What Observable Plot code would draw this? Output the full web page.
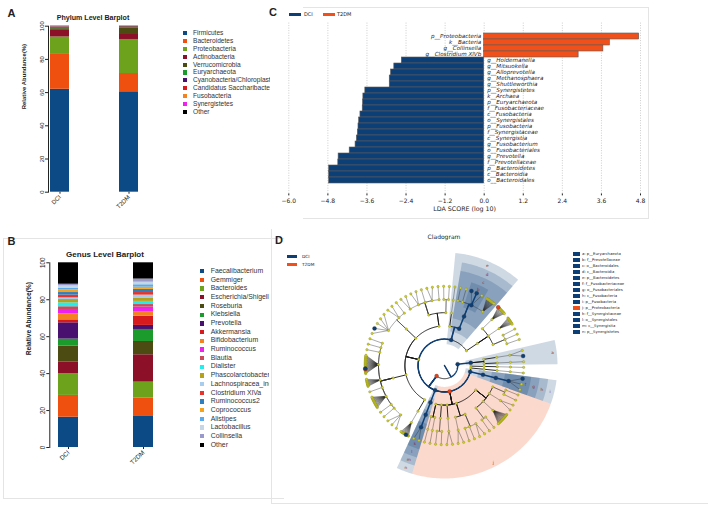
<!DOCTYPE html>
<html><head><meta charset="utf-8">
<script src="https://cdn.jsdelivr.net/npm/d3@7"></script>
<script src="https://cdn.jsdelivr.net/npm/@observablehq/plot@0.6"></script>
<style>
html,body{margin:0;padding:0;background:#fff}
body{width:708px;height:507px;position:relative;overflow:hidden;font-family:"Liberation Sans",Arial,sans-serif;color:#222}
.abs{position:absolute}
.ctr{position:absolute;transform:translate(-50%,-50%);white-space:nowrap}
.frame{position:absolute;border-color:#e4e4e4;border-style:solid;border-width:0}
svg{overflow:visible}
</style></head>
<body>
<script>
// ---------------- DATA ----------------
const groups = ["DCI", "T2DM"];

// Panel A – phylum level
const phylumNames = ["Firmicutes","Bacteroidetes","Proteobacteria","Actinobacteria","Verrucomicrobia","Euryarchaeota","Cyanobacteria/Chloroplast","Candidatus Saccharibacteria","Fusobacteria","Synergistetes","Other"];
const phylumColors = ["#0c4a86","#f0500f","#6ca21c","#8c1028","#4b4b12","#1b9b2b","#4a1070","#d61a1e","#f58220","#ee22ee","#000000"];
const phylumDCI  = [62, 21, 10.5, 4, 1, 0.8, 0.2, 0.1, 0.1, 0.05, 0.25];
const phylumT2DM = [60.5, 11, 20.5, 3, 4, 0.1, 0.1, 0.2, 0.1, 0.05, 0.45];

// Panel B – genus level
const genusNames = ["Faecalibacterium","Gemmiger","Bacteroides","Escherichia/Shigella","Roseburia","Klebsiella","Prevotella","Akkermansia","Bifidobacterium","Ruminococcus","Blautia","Dialister","Phascolarctobacterium","Lachnospiracea_incertae_sedis","Clostridium XlVa","Ruminococcus2","Coprococcus","Alistipes","Lactobacillus","Collinsella","Other"];
const genusColors = ["#0c4a86","#f0500f","#6ca21c","#8c1028","#4b4b12","#1b9b2b","#4a1070","#d61a1e","#f58220","#ee22ee","#cc4b5a","#22eeee","#b5a21a","#a6cdee","#e8332a","#2e7fbf","#f7a21b","#5aaaee","#c5d6e6","#9999cc","#000000"];
const genusDCI  = [16.4, 11.8, 11.7, 6.3, 8.7, 3.8, 8.8, 1.6, 3.3, 2.3, 1.5, 2.1, 1.8, 0.9, 1.5, 1.4, 1.5, 0.9, 1.2, 0.9, 11.6];
const genusT2DM = [16.8, 9.9, 8.7, 14.8, 7.2, 6.5, 2.2, 5.0, 2.2, 2.7, 1.4, 1.7, 1.6, 1.8, 1.4, 1.7, 1.2, 1.3, 1.4, 1.7, 8.8];
const pctTicks = [0, 20, 40, 60, 80, 100];

// Panel C – LDA scores
const ldaTaxa = ["p__Proteobacteria","k__Bacteria","g__Collinsella","g__Clostridium XlVb","g__Holdemanella","g__Mitsuokella","g__Alloprevotella","g__Methanosphaera","g__Shuttleworthia","p__Synergistetes","k__Archaea","p__Euryarchaeota","f__Fusobacteriaceae","c__Fusobacteria","o__Synergistales","p__Fusobacteria","f__Synergistaceae","c__Synergistia","g__Fusobacterium","o__Fusobacteriales","g__Prevotella","f__Prevotellaceae","p__Bacteroidetes","c__Bacteroidia","o__Bacteroidales"];
const ldaScores = [4.76, 3.86, 3.66, 2.90, -2.53, -2.76, -2.86, -2.90, -2.90, -3.65, -3.71, -3.72, -3.73, -3.80, -3.84, -3.86, -3.88, -3.91, -3.95, -4.13, -4.47, -4.48, -4.76, -4.76, -4.76];
const ldaClass = ["T2DM","T2DM","T2DM","T2DM","DCI","DCI","DCI","DCI","DCI","DCI","DCI","DCI","DCI","DCI","DCI","DCI","DCI","DCI","DCI","DCI","DCI","DCI","DCI","DCI","DCI"];
const ldaTicks = [-6.0, -4.8, -3.6, -2.4, -1.2, 0.0, 1.2, 2.4, 3.6, 4.8];
const groupColors = ["#0d3f77", "#f2501a"];

// Panel D – cladogram lineages (kingdom|phylum|class|order|family|genus)
const lineages = [
"Archaea|Euryarchaeota|Methanobacteria|Methanobacteriales|Methanobacteriaceae|Methanobrevibacter",
"Archaea|Euryarchaeota|Methanobacteria|Methanobacteriales|Methanobacteriaceae|Methanosphaera",
"Archaea|Euryarchaeota|Thermoplasmata|Methanomassiliicoccales|Methanomassiliicoccaceae|Methanomassiliicoccus",
"Bacteria|Verrucomicrobia|Verrucomicrobiae|Verrucomicrobiales|Verrucomicrobiaceae|Akkermansia",
"Bacteria|Lentisphaerae|Lentisphaeria|Victivallales|Victivallaceae|Victivallis",
"Bacteria|Fusobacteria|Fusobacteria|Fusobacteriales|Fusobacteriaceae|Fusobacterium",
"Bacteria|Fusobacteria|Fusobacteria|Fusobacteriales|Fusobacteriaceae|Cetobacterium",
"Bacteria|Fusobacteria|Fusobacteria|Fusobacteriales|Fusobacteriaceae|Propionigenium",
"Bacteria|Proteobacteria|Gammaproteobacteria|Pseudomonadales|Pseudomonadaceae|Pseudomonas",
"Bacteria|Proteobacteria|Gammaproteobacteria|Pseudomonadales|Moraxellaceae|Acinetobacter",
"Bacteria|Proteobacteria|Gammaproteobacteria|Pasteurellales|Pasteurellaceae|Haemophilus",
"Bacteria|Proteobacteria|Gammaproteobacteria|Pasteurellales|Pasteurellaceae|Aggregatibacter",
"Bacteria|Proteobacteria|Gammaproteobacteria|Enterobacteriales|Enterobacteriaceae|Escherichia/Shigella",
"Bacteria|Proteobacteria|Gammaproteobacteria|Enterobacteriales|Enterobacteriaceae|Klebsiella",
"Bacteria|Proteobacteria|Gammaproteobacteria|Enterobacteriales|Enterobacteriaceae|Enterobacter",
"Bacteria|Proteobacteria|Gammaproteobacteria|Enterobacteriales|Enterobacteriaceae|Citrobacter",
"Bacteria|Proteobacteria|Gammaproteobacteria|Enterobacteriales|Enterobacteriaceae|Proteus",
"Bacteria|Proteobacteria|Gammaproteobacteria|Enterobacteriales|Enterobacteriaceae|Raoultella",
"Bacteria|Proteobacteria|Gammaproteobacteria|Enterobacteriales|Enterobacteriaceae|Morganella",
"Bacteria|Proteobacteria|Gammaproteobacteria|Enterobacteriales|Enterobacteriaceae|Serratia",
"Bacteria|Proteobacteria|Gammaproteobacteria|Aeromonadales|Aeromonadaceae|Aeromonas",
"Bacteria|Proteobacteria|Gammaproteobacteria|Aeromonadales|Succinivibrionaceae|Succinivibrio",
"Bacteria|Proteobacteria|Betaproteobacteria|Burkholderiales|Sutterellaceae|Sutterella",
"Bacteria|Proteobacteria|Betaproteobacteria|Burkholderiales|Sutterellaceae|Parasutterella",
"Bacteria|Proteobacteria|Betaproteobacteria|Burkholderiales|Oxalobacteraceae|Oxalobacter",
"Bacteria|Proteobacteria|Betaproteobacteria|Burkholderiales|Comamonadaceae|Comamonas",
"Bacteria|Proteobacteria|Betaproteobacteria|Neisseriales|Neisseriaceae|Neisseria",
"Bacteria|Proteobacteria|Betaproteobacteria|Neisseriales|Neisseriaceae|Eikenella",
"Bacteria|Proteobacteria|Deltaproteobacteria|Desulfovibrionales|Desulfovibrionaceae|Desulfovibrio",
"Bacteria|Proteobacteria|Deltaproteobacteria|Desulfovibrionales|Desulfovibrionaceae|Bilophila",
"Bacteria|Proteobacteria|Epsilonproteobacteria|Campylobacterales|Campylobacteraceae|Campylobacter",
"Bacteria|Proteobacteria|Epsilonproteobacteria|Campylobacterales|Helicobacteraceae|Helicobacter",
"Bacteria|Proteobacteria|Alphaproteobacteria|Rhizobiales|Rhizobiaceae|Rhizobium",
"Bacteria|Proteobacteria|Alphaproteobacteria|Sphingomonadales|Sphingomonadaceae|Sphingomonas",
"Bacteria|Synergistetes|Synergistia|Synergistales|Synergistaceae|Cloacibacillus",
"Bacteria|Synergistetes|Synergistia|Synergistales|Synergistaceae|Pyramidobacter",
"Bacteria|Firmicutes|Erysipelotrichia|Erysipelotrichales|Erysipelotrichaceae|Turicibacter",
"Bacteria|Firmicutes|Erysipelotrichia|Erysipelotrichales|Erysipelotrichaceae|Catenibacterium",
"Bacteria|Firmicutes|Erysipelotrichia|Erysipelotrichales|Erysipelotrichaceae|Holdemania",
"Bacteria|Firmicutes|Erysipelotrichia|Erysipelotrichales|Erysipelotrichaceae|Clostridium XVIII",
"Bacteria|Firmicutes|Erysipelotrichia|Erysipelotrichales|Erysipelotrichaceae|Holdemanella",
"Bacteria|Firmicutes|Clostridia|Clostridiales|Peptostreptococcaceae|Romboutsia",
"Bacteria|Firmicutes|Clostridia|Clostridiales|Peptostreptococcaceae|Intestinibacter",
"Bacteria|Firmicutes|Clostridia|Clostridiales|Peptostreptococcaceae|Terrisporobacter",
"Bacteria|Firmicutes|Clostridia|Clostridiales|Eubacteriaceae|Eubacterium",
"Bacteria|Firmicutes|Clostridia|Clostridiales|Peptococcaceae|Peptococcus",
"Bacteria|Firmicutes|Clostridia|Clostridiales|Ruminococcaceae|Faecalibacterium",
"Bacteria|Firmicutes|Clostridia|Clostridiales|Ruminococcaceae|Gemmiger",
"Bacteria|Firmicutes|Clostridia|Clostridiales|Ruminococcaceae|Ruminococcus",
"Bacteria|Firmicutes|Clostridia|Clostridiales|Ruminococcaceae|Oscillibacter",
"Bacteria|Firmicutes|Clostridia|Clostridiales|Ruminococcaceae|Subdoligranulum",
"Bacteria|Firmicutes|Clostridia|Clostridiales|Ruminococcaceae|Butyricicoccus",
"Bacteria|Firmicutes|Clostridia|Clostridiales|Ruminococcaceae|Clostridium IV",
"Bacteria|Firmicutes|Clostridia|Clostridiales|Christensenellaceae|Christensenella",
"Bacteria|Firmicutes|Clostridia|Clostridiales|Peptoniphilaceae|Finegoldia",
"Bacteria|Firmicutes|Clostridia|Clostridiales|Peptoniphilaceae|Peptoniphilus",
"Bacteria|Firmicutes|Clostridia|Clostridiales|Peptoniphilaceae|Anaerococcus",
"Bacteria|Firmicutes|Clostridia|Clostridiales|Lachnospiraceae|Roseburia",
"Bacteria|Firmicutes|Clostridia|Clostridiales|Lachnospiraceae|Blautia",
"Bacteria|Firmicutes|Clostridia|Clostridiales|Lachnospiraceae|Coprococcus",
"Bacteria|Firmicutes|Clostridia|Clostridiales|Lachnospiraceae|Dorea",
"Bacteria|Firmicutes|Clostridia|Clostridiales|Lachnospiraceae|Ruminococcus2",
"Bacteria|Firmicutes|Clostridia|Clostridiales|Lachnospiraceae|Clostridium XlVa",
"Bacteria|Firmicutes|Clostridia|Clostridiales|Lachnospiraceae|Clostridium XlVb",
"Bacteria|Firmicutes|Clostridia|Clostridiales|Lachnospiraceae|Shuttleworthia",
"Bacteria|Firmicutes|Clostridia|Clostridiales|Lachnospiraceae|Anaerostipes",
"Bacteria|Firmicutes|Clostridia|Clostridiales|Lachnospiraceae|Lachnospiracea_incertae_sedis",
"Bacteria|Firmicutes|Clostridia|Clostridiales|Lachnospiraceae|Fusicatenibacter",
"Bacteria|Firmicutes|Clostridia|Clostridiales|Lachnospiraceae|Eisenbergiella",
"Bacteria|Firmicutes|Clostridia|Clostridiales|Clostridiaceae 1|Clostridium sensu stricto",
"Bacteria|Firmicutes|Clostridia|Clostridiales|Clostridiales_Incertae Sedis XIII|Anaerovorax",
"Bacteria|Firmicutes|Clostridia|Clostridiales|Clostridiales_Incertae Sedis XI|Parvimonas",
"Bacteria|Firmicutes|Negativicutes|Selenomonadales|Veillonellaceae|Megamonas",
"Bacteria|Firmicutes|Negativicutes|Selenomonadales|Veillonellaceae|Mitsuokella",
"Bacteria|Firmicutes|Negativicutes|Selenomonadales|Veillonellaceae|Dialister",
"Bacteria|Firmicutes|Negativicutes|Selenomonadales|Veillonellaceae|Veillonella",
"Bacteria|Firmicutes|Negativicutes|Selenomonadales|Veillonellaceae|Megasphaera",
"Bacteria|Firmicutes|Negativicutes|Selenomonadales|Acidaminococcaceae|Phascolarctobacterium",
"Bacteria|Firmicutes|Negativicutes|Selenomonadales|Acidaminococcaceae|Acidaminococcus",
"Bacteria|Firmicutes|Negativicutes|Selenomonadales|Selenomonadaceae|Selenomonas",
"Bacteria|Firmicutes|Bacilli|Lactobacillales|Lactobacillaceae|Lactobacillus",
"Bacteria|Firmicutes|Bacilli|Lactobacillales|Lactobacillaceae|Pediococcus",
"Bacteria|Firmicutes|Bacilli|Lactobacillales|Streptococcaceae|Streptococcus",
"Bacteria|Firmicutes|Bacilli|Lactobacillales|Streptococcaceae|Lactococcus",
"Bacteria|Firmicutes|Bacilli|Lactobacillales|Enterococcaceae|Enterococcus",
"Bacteria|Firmicutes|Bacilli|Lactobacillales|Leuconostocaceae|Leuconostoc",
"Bacteria|Firmicutes|Bacilli|Lactobacillales|Leuconostocaceae|Weissella",
"Bacteria|Firmicutes|Bacilli|Lactobacillales|Carnobacteriaceae|Granulicatella",
"Bacteria|Firmicutes|Bacilli|Bacillales|Staphylococcaceae|Staphylococcus",
"Bacteria|Firmicutes|Bacilli|Bacillales|Bacillaceae|Bacillus",
"Bacteria|Bacteroidetes|Flavobacteriia|Flavobacteriales|Flavobacteriaceae|Capnocytophaga",
"Bacteria|Bacteroidetes|Bacteroidia|Bacteroidales|Bacteroidaceae|Bacteroides",
"Bacteria|Bacteroidetes|Bacteroidia|Bacteroidales|Rikenellaceae|Alistipes",
"Bacteria|Bacteroidetes|Bacteroidia|Bacteroidales|Prevotellaceae|Prevotella",
"Bacteria|Bacteroidetes|Bacteroidia|Bacteroidales|Prevotellaceae|Alloprevotella",
"Bacteria|Bacteroidetes|Bacteroidia|Bacteroidales|Prevotellaceae|Paraprevotella",
"Bacteria|Bacteroidetes|Bacteroidia|Bacteroidales|Porphyromonadaceae|Parabacteroides",
"Bacteria|Bacteroidetes|Bacteroidia|Bacteroidales|Porphyromonadaceae|Odoribacter",
"Bacteria|Bacteroidetes|Bacteroidia|Bacteroidales|Porphyromonadaceae|Barnesiella",
"Bacteria|Bacteroidetes|Bacteroidia|Bacteroidales|Porphyromonadaceae|Butyricimonas",
"Bacteria|Bacteroidetes|Bacteroidia|Bacteroidales|Porphyromonadaceae|Coprobacter",
"Bacteria|Bacteroidetes|Bacteroidia|Bacteroidales|Porphyromonadaceae|Porphyromonas",
"Bacteria|Bacteroidetes|Bacteroidia|Bacteroidales|Porphyromonadaceae|Tannerella",
"Bacteria|Actinobacteria|Actinobacteria|Coriobacteriales|Coriobacteriaceae|Collinsella",
"Bacteria|Actinobacteria|Actinobacteria|Coriobacteriales|Coriobacteriaceae|Eggerthella",
"Bacteria|Actinobacteria|Actinobacteria|Coriobacteriales|Coriobacteriaceae|Slackia",
"Bacteria|Actinobacteria|Actinobacteria|Coriobacteriales|Coriobacteriaceae|Adlercreutzia",
"Bacteria|Actinobacteria|Actinobacteria|Coriobacteriales|Coriobacteriaceae|Atopobium",
"Bacteria|Actinobacteria|Actinobacteria|Coriobacteriales|Coriobacteriaceae|Olsenella",
"Bacteria|Actinobacteria|Actinobacteria|Coriobacteriales|Coriobacteriaceae|Gordonibacter",
"Bacteria|Actinobacteria|Actinobacteria|Bifidobacteriales|Bifidobacteriaceae|Bifidobacterium",
"Bacteria|Actinobacteria|Actinobacteria|Bifidobacteriales|Bifidobacteriaceae|Alloscardovia",
"Bacteria|Actinobacteria|Actinobacteria|Bifidobacteriales|Bifidobacteriaceae|Scardovia",
"Bacteria|Actinobacteria|Actinobacteria|Bifidobacteriales|Bifidobacteriaceae|Parascardovia",
"Bacteria|Actinobacteria|Actinobacteria|Bifidobacteriales|Bifidobacteriaceae|Gardnerella",
"Bacteria|Actinobacteria|Actinobacteria|Actinomycetales|Actinomycetaceae|Actinomyces",
"Bacteria|Actinobacteria|Actinobacteria|Actinomycetales|Micrococcaceae|Rothia",
"Bacteria|Actinobacteria|Actinobacteria|Actinomycetales|Corynebacteriaceae|Corynebacterium"
];
const levelPrefix = ["k","p","c","o","f","g"];
// families drawn as dense fans, and the number of further (unnamed) genera in each
const fanFamilies = ["f__Enterobacteriaceae","f__Erysipelotrichaceae","f__Ruminococcaceae","f__Lachnospiraceae","f__Peptoniphilaceae","f__Porphyromonadaceae","f__Coriobacteriaceae","f__Bifidobacteriaceae"];
const fanExtraGenera = [10, 8, 10, 14, 8, 6, 6, 6];
const cladeKeys = ["p__Euryarchaeota","f__Prevotellaceae","o__Bacteroidales","c__Bacteroidia","p__Bacteroidetes","f__Fusobacteriaceae","o__Fusobacteriales","c__Fusobacteria","p__Fusobacteria","p__Proteobacteria","f__Synergistaceae","o__Synergistales","c__Synergistia","p__Synergistetes"];
const cladeLetters = ["a","b","c","d","e","f","g","h","i","j","k","l","m","n"];

// ---------------- HELPERS ----------------
const body = document.body;
function place(el, left, top){ const d=document.createElement("div"); d.className="abs"; d.style.left=left+"px"; d.style.top=top+"px"; d.appendChild(el); body.appendChild(d); return d; }
function text(str, x, y, css){ const d=document.createElement("div"); d.className="ctr"; d.textContent=str; d.style.left=x+"px"; d.style.top=y+"px"; Object.assign(d.style, css||{}); body.appendChild(d); return d; }
function frame(l,t,w,h,sides){ const d=document.createElement("div"); d.className="frame"; Object.assign(d.style,{left:l+"px",top:t+"px",width:w+"px",height:h+"px"}); sides.forEach(s=>d.style["border"+s+"Width"]="1px"); body.appendChild(d); }
function box(x,y,w,h,color){ const s=document.createElement("div"); s.className="abs"; Object.assign(s.style,{left:x+"px",top:y+"px",width:w+"px",height:h+"px",background:color}); body.appendChild(s); }
function legend(names, colors, x, y0, step, sw, tx, fs, clipW){
  const wrap=document.createElement("div"); wrap.className="abs"; Object.assign(wrap.style,{left:x+"px",top:(y0-step)+"px",width:clipW+"px",height:(names.length+1)*step+"px",overflow:"hidden"});
  names.forEach((n,i)=>{
    const cy = step + i*step;
    const s=document.createElement("div"); s.className="abs"; Object.assign(s.style,{left:"0px",top:(cy-sw/2)+"px",width:sw+"px",height:sw+"px",background:colors[i]}); wrap.appendChild(s);
    const t=document.createElement("div"); t.className="abs"; t.textContent=n; Object.assign(t.style,{left:tx+"px",top:(cy-fs*0.62)+"px",fontSize:fs+"px",lineHeight:(fs*1.2)+"px",whiteSpace:"nowrap",color:"#333"}); wrap.appendChild(t);
  });
  body.appendChild(wrap);
}

// ---------------- FRAMES ----------------
frame(3, 238, 280, 259, ["Top","Left","Bottom"]);
frame(303, 7, 345, 210, ["Top","Right","Bottom"]);
frame(271, 229, 450, 274, ["Left","Bottom"]);

// ---------------- PANEL A ----------------
const phylumRows = phylumNames.flatMap((t,i)=>[{group:"DCI",taxon:t,value:phylumDCI[i]},{group:"T2DM",taxon:t,value:phylumT2DM[i]}]);
const barStyle = {fontFamily:"Liberation Sans, Arial, sans-serif", fontSize:"6px", color:"#222", background:"none", overflow:"visible"};
const plotA = Plot.plot({
  width:180, height:230, marginLeft:48, marginRight:0, marginTop:25.7, marginBottom:38.3,
  style: barStyle,
  x:{domain:groups, range:[50,138], paddingInner:0.725, paddingOuter:0, align:0.5, label:null, tickRotate:-45, tickSize:2, tickPadding:2},
  y:{domain:[0,100], ticks:pctTicks, label:null, tickRotate:-90, line:true, tickSize:3, tickPadding:2},
  color:{domain:phylumNames, range:phylumColors},
  marks:[
    Plot.barY(phylumRows, {x:"group", y:"value", fill:"taxon"}),
    Plot.text(["Relative Abundance(%)"], {frameAnchor:"left", dx:-24, rotate:-90, text:d=>d, fontWeight:"bold", fontSize:5.9})
  ]
});
place(plotA, 0, 0);
text("Phylum Level Barplot", 93, 18, {fontWeight:"bold", fontSize:"7.1px"});
text("A", 11.5, 12.5, {fontWeight:"bold", fontSize:"11px"});
legend(phylumNames, phylumColors, 183, 33.3, 7.84, 4.2, 10, 6.6, 87);

// ---------------- PANEL B ----------------
const genusRows = genusNames.flatMap((t,i)=>[{group:"DCI",taxon:t,value:genusDCI[i]},{group:"T2DM",taxon:t,value:genusT2DM[i]}]);
const plotB = Plot.plot({
  width:200, height:277, marginLeft:49.3, marginRight:0, marginTop:32.3, marginBottom:60,
  style: {...barStyle, fontSize:"6.3px"},
  x:{domain:groups, range:[57.3,153.8], paddingInner:0.73, paddingOuter:0, align:0.5, label:null, tickRotate:-45, tickSize:2, tickPadding:2},
  y:{domain:[0,100], ticks:pctTicks, label:null, tickRotate:-90, line:true, tickSize:3, tickPadding:2},
  color:{domain:genusNames, range:genusColors},
  marks:[
    Plot.barY(genusRows, {x:"group", y:"value", fill:"taxon"}),
    Plot.text(["Relative Abundance(%)"], {frameAnchor:"left", dx:-21, rotate:-90, text:d=>d, fontWeight:"bold", fontSize:6.6})
  ]
});
place(plotB, 0, 230);
text("Genus Level Barplot", 105, 254, {fontWeight:"bold", fontSize:"8px"});
text("B", 11.5, 240.5, {fontWeight:"bold", fontSize:"11px"});
legend(genusNames, genusColors, 200, 271.3, 8.68, 4.3, 10.7, 6.9, 69);

// ---------------- PANEL C ----------------
const ldaRows = ldaTaxa.map((t,i)=>({taxon:t, score:ldaScores[i], cls:ldaClass[i]}));
const fmt = d => d.toFixed(1).replace("-", "\u2212");
const plotC = Plot.plot({
  width:390, height:222, marginLeft:18.3, marginRight:20, marginTop:22.6, marginBottom:28.6,
  style:{fontFamily:"DejaVu Sans, sans-serif", fontSize:"6px", color:"#222", background:"none", overflow:"visible"},
  x:{domain:[-6,4.8], ticks:ldaTicks, tickFormat:fmt, label:null, tickSize:2, tickPadding:3},
  y:{domain:ldaTaxa, axis:null, padding:0.08},
  color:{domain:groups, range:groupColors},
  marks:[
    Plot.ruleX(ldaTicks, {stroke:"#9a9a9a", strokeDasharray:"1,1.5", strokeWidth:0.5}),
    Plot.barX(ldaRows, {x:"score", y:"taxon", fill:"cls", stroke:"#5a5a5a", strokeWidth:0.6}),
    Plot.text(ldaRows.filter(d=>d.cls==="T2DM"), {x:0, y:"taxon", text:"taxon", textAnchor:"end", dx:-3, fontStyle:"italic", fontSize:5.6}),
    Plot.text(ldaRows.filter(d=>d.cls==="DCI"), {x:0, y:"taxon", text:"taxon", textAnchor:"start", dx:3, fontStyle:"italic", fontSize:5.6}),
    Plot.text(["LDA SCORE (log 10)"], {frameAnchor:"bottom", dy:17, text:d=>d, fontSize:6.3})
  ]
});
place(plotC, 270, 0);
text("C", 273, 12, {fontWeight:"bold", fontSize:"11px"});
[["DCI",289,304],["T2DM",323,337]].forEach(([g,bx,tx],i)=>{
  box(bx, 12.5, 11.5, 3.6, groupColors[i]);
  const t=document.createElement("div"); t.className="abs"; t.textContent=g; Object.assign(t.style,{left:tx+"px",top:"11.2px",fontSize:"5px",fontFamily:"DejaVu Sans",lineHeight:"6px"}); body.appendChild(t);
});

// ---------------- PANEL D ----------------
const treeObj = {name:"root", key:"root", children:[]};
lineages.forEach(line=>{
  let node = treeObj;
  line.split("|").forEach((nm,i)=>{
    const key = levelPrefix[i]+"__"+nm;
    let ch = node.children.find(c=>c.key===key);
    if(!ch){ ch={name:nm, key, children:[]}; node.children.push(ch); }
    node = ch;
  });
});
function findObj(o,key){ if(o.key===key) return o; for(const c of o.children){ const r=findObj(c,key); if(r) return r; } return null; }
fanFamilies.forEach((f,i)=>{
  const o = findObj(treeObj, f);
  for(let j=1;j<=fanExtraGenera[i];j++) o.children.push({name:o.name+" unclassified "+j, key:f+"_g"+j, children:[]});
});
const tree = d3.hierarchy(treeObj, d=>d.children.length ? d.children : null);
const fanSet = new Set(fanFamilies);
const sep = (a,b) => (a.parent===b.parent && fanSet.has(a.parent.data.key)) ? 0.13 : 1;
const leaves = tree.leaves();
let S = 0; for(let i=1;i<leaves.length;i++) S += sep(leaves[i-1], leaves[i]);
const unit = 360/(S+1);
d3.cluster().size([S*unit, 1]).separation(sep)(tree);
const startAngle = -13, step = 13.2;
const rad = a => a*Math.PI/180;
tree.each(n=>{ n.ang = startAngle + n.x; n.r = n.depth*step; });
const sigClass = new Map(ldaTaxa.map((t,i)=>[t, ldaClass[i]]));
const clsOf = n => sigClass.get(n.data.key) || "none";
const pt = (r,a) => ({x:r*Math.cos(rad(a)), y:r*Math.sin(rad(a))});

// links: radial from parent, then arc at the child's radius; genus links are straight
const linkPts = [];
tree.descendants().filter(n=>n.parent).forEach(n=>{
  const p=n.parent, c=clsOf(n);
  const push = (r,a)=>linkPts.push({id:n.data.key, cls:c, depth:n.depth, ...pt(r,a)});
  push(p.r, p.ang);
  if(n.depth===6){ push(n.r, n.ang); return; }
  const k = Math.max(1, Math.ceil(Math.abs(n.ang-p.ang)/1.5));
  for(let i=0;i<=k;i++) push(n.r, p.ang+(n.ang-p.ang)*i/k);
});
const Rout = 113, band = 8.5;
const sectorPts = [], sectorLabels = [];
cladeKeys.forEach((key,ci)=>{
  const node = tree.descendants().find(d=>d.data.key===key);
  const lv = node.leaves().map(l=>l.ang);
  const a0 = d3.min(lv)-unit/2, a1 = d3.max(lv)+unit/2;
  const ro = Rout-(node.depth-2)*band, ri = node.r-5;
  const c = clsOf(node);
  const k = Math.max(2, Math.ceil(a1-a0));
  for(let i=0;i<=k;i++) sectorPts.push({id:key, cls:c, ...pt(ro, a0+(a1-a0)*i/k)});
  for(let i=k;i>=0;i--) sectorPts.push({id:key, cls:c, ...pt(ri, a0+(a1-a0)*i/k)});
  sectorLabels.push({letter:cladeLetters[ci], ...pt(ro-band/2, (a0+a1)/2)});
});
const nodes = tree.descendants().filter(n=>n.depth>0).map(n=>({key:n.data.key, cls:clsOf(n), depth:n.depth, ...pt(n.r,n.ang)}));
const cx = 174, cy = 135;
const thickDCI = d => d.cls==="DCI" && (d.depth<6 || d.id.includes("prevotella"));
const plotD = Plot.plot({
  width:438, height:277, marginLeft:0, marginRight:0, marginTop:0, marginBottom:0,
  style:{background:"none", overflow:"visible", fontFamily:"DejaVu Sans, sans-serif"},
  x:{domain:[-cx, 438-cx], range:[0,438], axis:null},
  y:{domain:[-cy, 277-cy], range:[0,277], axis:null},
  marks:[
    Plot.line(sectorPts.filter(d=>d.cls==="DCI"), {x:"x", y:"y", z:"id", fill:groupColors[0], fillOpacity:0.2, stroke:"none"}),
    Plot.line(sectorPts.filter(d=>d.cls==="T2DM"), {x:"x", y:"y", z:"id", fill:groupColors[1], fillOpacity:0.22, stroke:"none"}),
    Plot.line(linkPts.filter(d=>!thickDCI(d) && d.depth>=5), {x:"x", y:"y", z:"id", stroke:"#2a2a2a", strokeWidth:0.4}),
    Plot.line(linkPts.filter(d=>!thickDCI(d) && d.depth<5), {x:"x", y:"y", z:"id", stroke:"#151515", strokeWidth:0.9}),
    Plot.line(linkPts.filter(d=>thickDCI(d)), {x:"x", y:"y", z:"id", stroke:groupColors[0], strokeWidth:1.5}),
    Plot.dot(nodes.filter(d=>d.cls==="none"), {x:"x", y:"y", r:1.2, fill:"#cfcf2e", stroke:"#7a7a10", strokeWidth:0.3}),
    Plot.dot(nodes.filter(d=>d.cls!=="none"), {x:"x", y:"y", r:2, fill:d=>d.cls==="DCI"?groupColors[0]:"#e8401a", stroke:"#333", strokeWidth:0.3}),
    Plot.text(sectorLabels, {x:"x", y:"y", text:"letter", fontSize:4.2, fill:"#8a3040"})
  ]
});
place(plotD, 270, 230);
text("D", 279, 239.5, {fontWeight:"bold", fontSize:"11px"});
text("Cladogram", 444, 236, {fontSize:"6px", fontFamily:"DejaVu Sans"});
groups.forEach((g,i)=>{
  const y = 256.5 + i*8;
  box(287, y-1.7, 10, 3.4, groupColors[i]);
  const t=document.createElement("div"); t.className="abs"; t.textContent=g; Object.assign(t.style,{left:"302px",top:(y-2.5)+"px",fontSize:"4.3px",lineHeight:"5px",fontFamily:"DejaVu Sans"}); body.appendChild(t);
});
cladeKeys.forEach((k,i)=>{
  const y = 254 + i*6;
  box(573, y-1.6, 7, 3.2, sigClass.get(k)==="T2DM" ? groupColors[1] : groupColors[0]);
  const t=document.createElement("div"); t.className="abs"; t.textContent=cladeLetters[i]+": "+k; Object.assign(t.style,{left:"582px",top:(y-2.3)+"px",fontSize:"3.8px",lineHeight:"4.6px",fontFamily:"DejaVu Sans",whiteSpace:"nowrap"}); body.appendChild(t);
});
</script>
</body></html>
